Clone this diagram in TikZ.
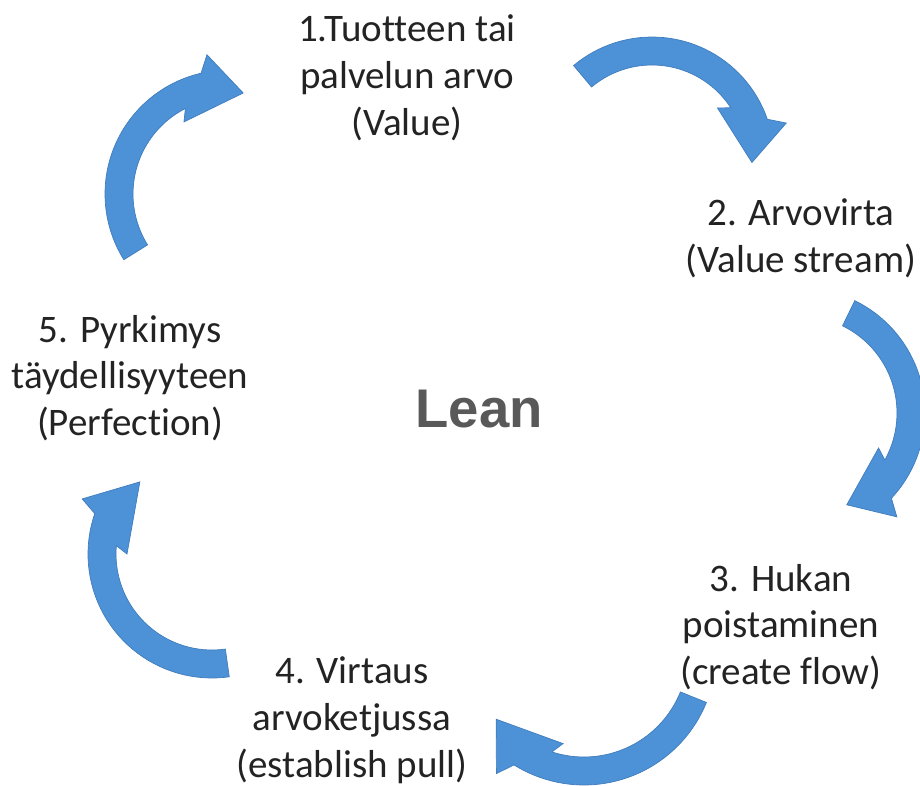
\documentclass[tikz,border=0pt]{standalone}
\usepackage{fontspec}
\setmainfont[Ligatures={NoCommon,NoContextual}]{Carlito}
\newfontfamily\leanfont{Liberation Sans}
\usepackage{tikz}
\definecolor{arrowblue}{RGB}{77,146,214}
\definecolor{arrowedge}{RGB}{64,124,190}
\definecolor{labeltext}{RGB}{35,35,35}
\definecolor{leangray}{RGB}{89,89,89}

\begin{document}
\begin{tikzpicture}
[x=0.02cm, y=-0.02cm]
\tikzset{
	phase/.style = {inner sep = 0, align = center, text = labeltext, font = \fontsize{22.2}{26.6}\selectfont},
	centre/.style = {inner sep = 0, anchor = base, text = leangray, font = \leanfont\bfseries\fontsize{31}{36}\selectfont},
	cyclearrow/.style = {fill = arrowblue, draw = arrowedge, line width = 0.4pt, line join = miter}
}
\useasboundingbox (0,0) rectangle (920,785);

\node(lean) [centre] at (479,427) {Lean};

\node(value) [phase] at (407,78) {1.Tuotteen tai\\palvelun arvo\\(Value)};
\node(stream) [phase] at (801,238) {2. Arvovirta\\(Value stream)};
\node(flow) [phase] at (781,627) {3. Hukan\\poistaminen\\(create flow)};
\node(pull) [phase] at (352,720) {4. Virtaus\\arvoketjussa\\(establish pull)};
\node(perfection) [phase] at (130,378) {5. Pyrkimys\\täydellisyyteen\\(Perfection)};

% centre x, centre y, radius, tail, head base, tip (angles run with the flipped y axis)
\foreach \cx/\cy/\rad/\T/\B/\P in {652/159/108/-130/-24/2, 800/413/111/-64/38/63, 584/653/118/22/117/143, 212/554/110/82/194/225, 229/194/110/148/252/278}{
	\pgfmathsetmacro\ro{\rad+14}
	\pgfmathsetmacro\ri{\rad-14}
	\pgfmathsetmacro\rb{\rad+31}
	\pgfmathsetmacro\rn{\rad-25}
	\pgfmathsetmacro\rt{\rad-8}
	\fill[cyclearrow] plot[domain=\T:\B+5, samples=40] ({\cx+\ro*cos(\x)},{\cy+\ro*sin(\x)})
		-- ({\cx+\rb*cos(\B+9)},{\cy+\rb*sin(\B+9)})
		-- ({\cx+\rt*cos(\P)},{\cy+\rt*sin(\P)})
		-- ({\cx+\rn*cos(\B-14)},{\cy+\rn*sin(\B-14)})
		-- plot[domain=\B-9:\T, samples=40] ({\cx+\ri*cos(\x)},{\cy+\ri*sin(\x)})
		-- cycle;
}

\end{tikzpicture}
\end{document}
